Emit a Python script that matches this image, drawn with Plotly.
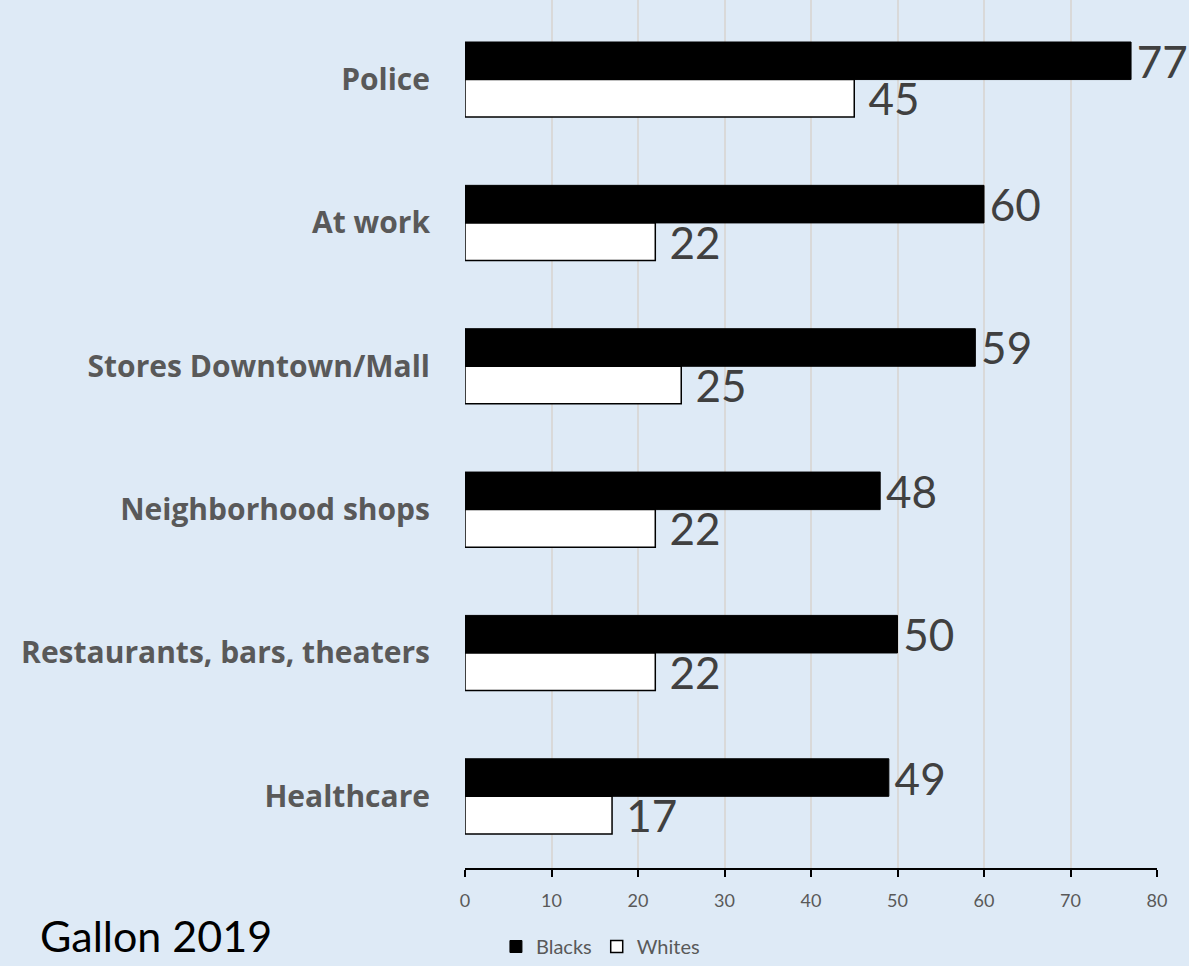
import plotly.graph_objects as go

categories = ["Police", "At work", "Stores Downtown/Mall", "Neighborhood shops",
              "Restaurants, bars, theaters", "Healthcare"]
blacks = [77, 60, 59, 48, 50, 49]
whites = [45, 22, 25, 22, 22, 17]
x_ticks = [0, 10, 20, 30, 40, 50, 60, 70, 80]

BG = "#DEEAF6"
FONT = "Lato, 'Open Sans', sans-serif"
CAT_FONT = "'Open Sans', Lato, sans-serif"

fig = go.Figure()
fig.add_trace(go.Bar(
    y=categories, x=blacks, orientation="h", name="Blacks",
    marker=dict(color="black", line=dict(color="black", width=1)),
    text=blacks, texttemplate="\u200a%{x}", textposition="outside",
    constraintext="none", cliponaxis=False,
    textfont=dict(size=44, color="#404040", family=FONT),
))
fig.add_trace(go.Bar(
    y=categories, x=whites, orientation="h", name="Whites",
    marker=dict(color="white", line=dict(color="black", width=1.5)),
    text=whites, texttemplate="\u00a0%{x}", textposition="outside",
    constraintext="none", cliponaxis=False,
    textfont=dict(size=44, color="#404040", family=FONT),
))

fig.update_layout(
    width=1189, height=966,
    paper_bgcolor=BG, plot_bgcolor=BG,
    margin=dict(l=465, r=32, t=0, b=98),
    barmode="group", bargap=0.476, bargroupgap=0,
    font=dict(family=FONT, color="#595959"),
    showlegend=True,
    legend=dict(orientation="h", xref="container", x=0.505, xanchor="center",
                yref="container", y=-0.01, yanchor="bottom",
                font=dict(size=20, color="#595959"), bgcolor="rgba(0,0,0,0)",
                itemwidth=30, tracegroupgap=0),
    annotations=[dict(text="Gallon 2019", xref="paper", yref="paper",
                      x=-0.6175, y=-0.109, xanchor="left", yanchor="bottom",
                      showarrow=False, font=dict(size=43, color="black", family=FONT))],
)
fig.update_xaxes(range=[0, 80], tickvals=x_ticks, showgrid=True, gridcolor="#D9D9D9",
                 gridwidth=1.5, showline=True, linecolor="black", linewidth=1.5,
                 ticks="outside", ticklen=7, tickcolor="black", tickwidth=1.5,
                 tickfont=dict(size=18, color="#595959"), zeroline=False,
                 ticklabelstandoff=9)
fig.update_yaxes(range=[5.5, -0.555], showgrid=False, showline=False,
                 tickfont=dict(size=30, color="#595959", family=CAT_FONT),
                 ticklabelstandoff=34,
                 tickvals=categories, ticktext=[f"<b>{c}</b>" for c in categories])

fig.write_html("out.html")
